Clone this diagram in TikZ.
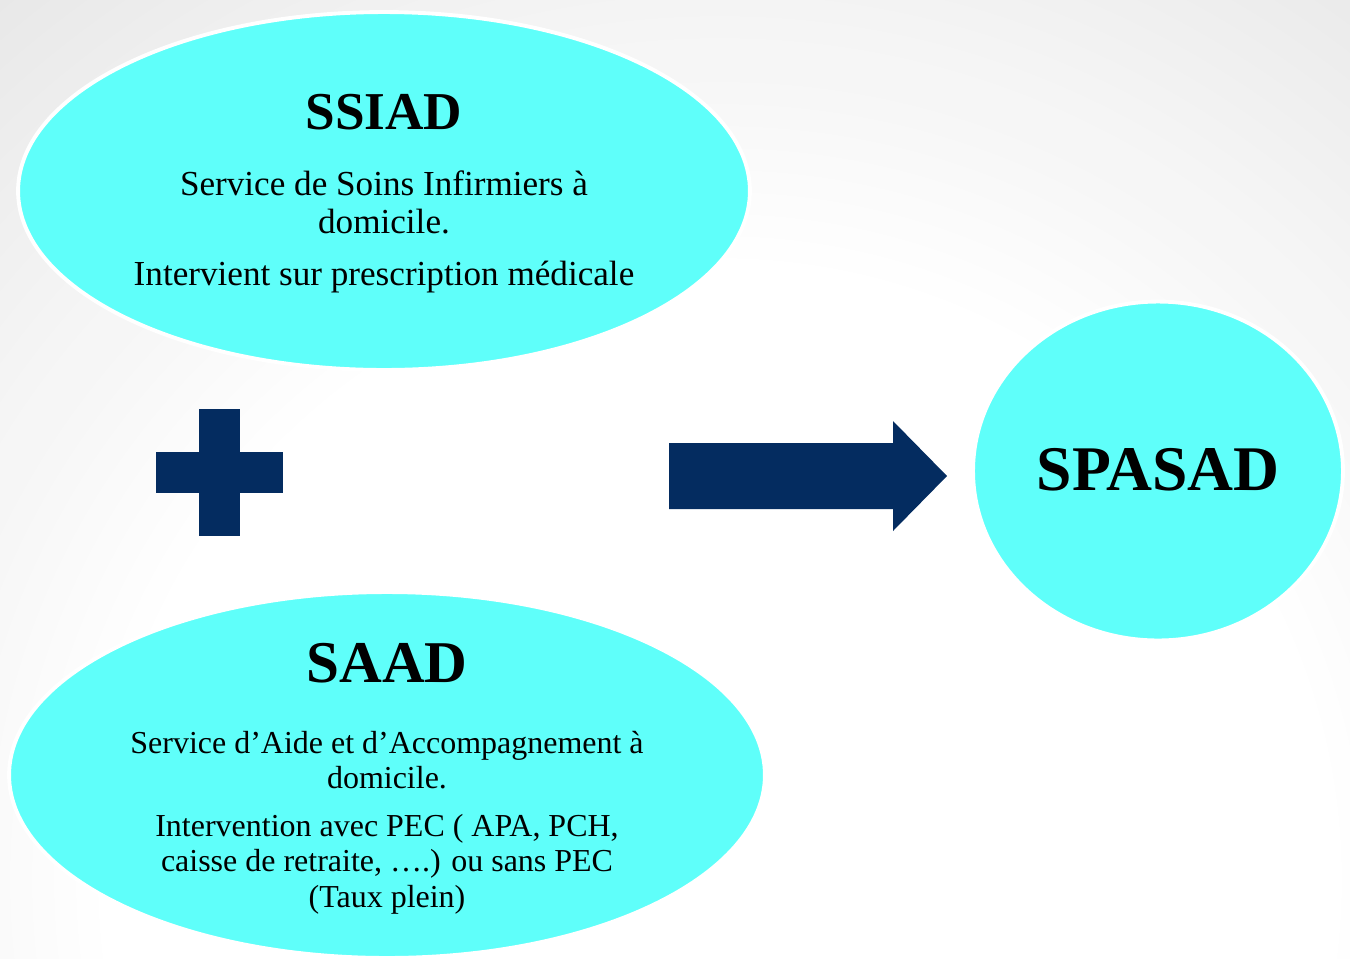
\documentclass[tikz,border=0pt]{standalone}
\usepackage{fontspec}
\setmainfont{Liberation Serif}
\usetikzlibrary{shapes.geometric}
\definecolor{bulle}{RGB}{95,255,250}
\definecolor{marine}{RGB}{4,44,96}
\tikzset{
  bulle/.style={ellipse,fill=bulle,draw=white,line width=2.2pt,inner sep=0pt},
  titre/.style={font=\fontsize{30.3}{34}\selectfont\bfseries},
  texte/.style={align=center,font=\fontsize{20}{21.6}\selectfont}
}
\begin{document}
\begin{tikzpicture}[x=0.02cm,y=-0.02cm]
  \useasboundingbox (0,0) rectangle (1350,958);
  \begin{scope}
    \clip (0,0) rectangle (1350,958);
    % fond degrade
    \fill[black!9] (0,0) rectangle (1350,958);
    \foreach \i in {0,...,24} {
      \pgfmathsetmacro\gris{9*(1-\i/24)}
      \fill[black!\gris] (720,880) circle ({1150-\i*22});
    }
    % les trois bulles
    \node[bulle,minimum width=14.64cm,minimum height=7.16cm] (ssiad) at (384,191) {};
    \node[bulle,minimum width=15.12cm,minimum height=7.32cm] (saad) at (387,775) {};
    \node[bulle,minimum width=7.4cm,minimum height=6.78cm] (spasad) at (1158,471) {};
  \end{scope}
  % textes
  \node[titre] (ssiad-titre) at (384,112) {SSIAD};
  \node[texte] (ssiad-def) at (384,202) {Service de Soins Infirmiers à\\domicile.};
  \node[texte] (ssiad-presc) at (384,277) {Intervient sur prescription médicale};
  \node[titre,font=\fontsize{33.7}{36}\selectfont\bfseries] (saad-titre) at (387,663) {SAAD};
  \node[texte,font=\fontsize{18.2}{20.2}\selectfont] (saad-def) at (387,760) {Service d’Aide et d’Accompagnement à\\domicile.};
  \node[texte,font=\fontsize{18.2}{20.2}\selectfont] (saad-pec) at (387,864) {Intervention avec PEC ( APA, PCH,\\caisse de retraite, ….) ou sans PEC\\(Taux plein)};
  \node[titre,font=\fontsize{36.2}{40}\selectfont\bfseries] (spasad-titre) at (1158,470) {SPASAD};
  % le plus et la fleche
  \fill[marine] (199,409) rectangle (240,536);
  \fill[marine] (156,452) rectangle (283,493);
  \fill[marine] (669,443) -- (893,443) -- (893,421) -- (947,476) -- (893,531) -- (893,509) -- (669,509) -- cycle;
\end{tikzpicture}
\end{document}
